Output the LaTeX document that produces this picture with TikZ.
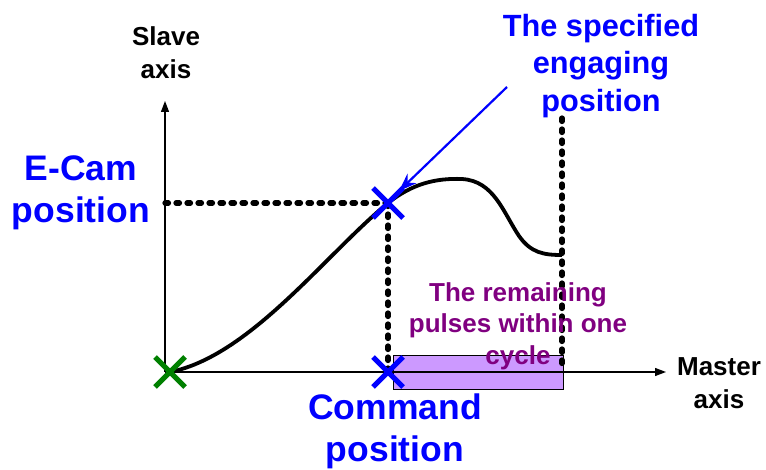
\documentclass[tikz,border=0pt]{standalone}
\usepackage{fontspec}
\setmainfont{Liberation Sans}
\usetikzlibrary{arrows.meta,calc}
\definecolor{pblue}{RGB}{0,0,255}
\definecolor{ppurple}{RGB}{128,0,128}
\definecolor{pfill}{RGB}{204,153,255}
\definecolor{pgreen}{RGB}{0,128,0}
\tikzset{
  axisline/.style={line width=1.3pt,-{Triangle[length=11pt,width=8pt]}},
  dotline/.style={line width=5.2pt,line cap=round,dash pattern=on 3.5pt off 7.5pt},
  xmark/.style={line width=5pt},
  lbl/.style={font=\bfseries\fontsize{26}{33}\selectfont,align=center,inner sep=0pt},
  biglbl/.style={font=\bfseries\fontsize{35.5}{42}\selectfont,text=pblue,align=center,inner sep=0pt},
  midlbl/.style={font=\bfseries\fontsize{30.7}{37.5}\selectfont,text=pblue,align=center,inner sep=0pt},
  purplbl/.style={font=\bfseries\fontsize{26}{31.5}\selectfont,text=ppurple,align=center,inner sep=0pt},
}
\begin{document}
\begin{tikzpicture}[x=1pt,y=-1pt]
\useasboundingbox (0,0) rectangle (766,470);
% coordinates
\coordinate (O) at (165,372);
\coordinate (ytop) at (165,101);
\coordinate (xend) at (666,372);
\coordinate (E) at (388,203);
\coordinate (Ey) at (165,203);
\coordinate (C) at (388,372);
\coordinate (G) at (170,372);
\coordinate (Rtop) at (562,118);
\coordinate (Rbot) at (562,370);
\coordinate (A) at (507,87);
\coordinate (At) at (399,191);
% rectangle
\node[draw=black,line width=1pt,fill=pfill,minimum width=170pt,minimum height=34pt,inner sep=0pt,anchor=north west] (rect) at (393,355) {};
% axes
\draw[axisline] (O) -- (ytop);
\draw[axisline] (O) -- (xend);
% dotted guides
\draw[dotline] (Ey) -- (E);
\draw[dotline] (E) -- (C);
\draw[dotline] (Rtop) -- (Rbot);
% curve
\draw[line width=3.8pt] (G) .. controls (250,356) and (325,255) .. (E)
  .. controls (412,184) and (435,178) .. (462,179)
  .. controls (494,181) and (503,212) .. (519,236)
  .. controls (531,253) and (544,255) .. (562,255);
% X marks
\draw[xmark,pgreen] ($(G)+(-15,-15)$) -- ($(G)+(15,15)$) ($(G)+(-15,15)$) -- ($(G)+(15,-15)$);
\draw[xmark,pblue] ($(E)+(-15,-15)$) -- ($(E)+(15,15)$) ($(E)+(-15,15)$) -- ($(E)+(15,-15)$);
\draw[xmark,pblue] ($(C)+(-15,-15)$) -- ($(C)+(15,15)$) ($(C)+(-15,15)$) -- ($(C)+(15,-15)$);
% arrow
\draw[pblue,line width=2.2pt,-{Stealth[length=18pt,width=13pt]}] (A) -- (At);
% labels
\node[lbl] (slave) at (166,53) {Slave\\axis};
\node[lbl] (master) at (719,383) {Master\\axis};
\node[biglbl] (ecam) at (81,193) {E-Cam\\position};
\node[biglbl] (cmd) at (395,431) {Command\\position};
\node[midlbl] (spec) at (601,66) {The specified\\engaging\\position};
\node[purplbl] (rem) at (518,326) {The remaining\\pulses within one\\cycle};
\end{tikzpicture}
\end{document}
